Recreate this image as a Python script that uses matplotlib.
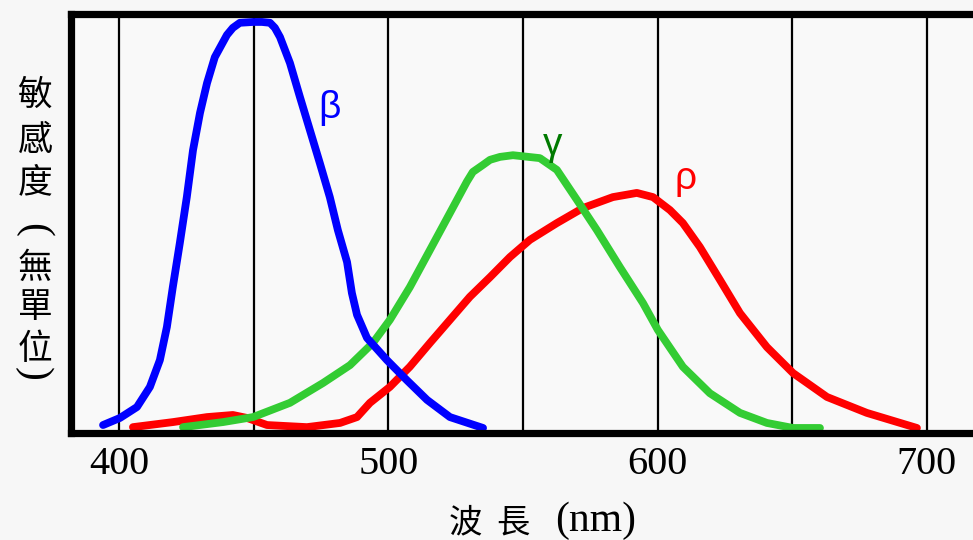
import matplotlib
matplotlib.use("Agg")
import matplotlib.pyplot as plt

# spectral sensitivity curves (nm, relative value)
beta_nm = [394.1, 400.4, 406.7, 411.5, 415.2, 417.8, 420.0, 422.6, 425.2, 427.5, 430.1, 432.7,
           435.6, 440.1, 442.3, 444.9, 449.8, 453.1, 456.1, 457.9, 459.8, 463.5, 467.2, 470.9,
           474.6, 478.3, 481.3, 484.7, 486.5, 488.4, 492.1, 499.5, 506.9, 514.4, 522.9, 535.2]
beta_val = [0.019, 0.036, 0.062, 0.110, 0.174, 0.253, 0.348, 0.453, 0.563, 0.675, 0.764, 0.835,
            0.897, 0.950, 0.967, 0.979, 0.981, 0.981, 0.979, 0.967, 0.945, 0.883, 0.802, 0.723,
            0.644, 0.563, 0.484, 0.408, 0.334, 0.282, 0.227, 0.174, 0.126, 0.079, 0.038, 0.012]

gamma_nm = [423.8, 438.6, 449.8, 463.5, 475.7, 485.8, 494.3, 500.6, 508.0, 515.5, 522.9, 529.2,
            531.4, 535.2, 537.8, 541.5, 546.3, 556.3, 562.6, 570.1, 577.5, 586.0, 594.6, 600.1,
            609.4, 619.4, 630.6, 640.6, 650.3, 660.3]
gamma_val = [0.014, 0.026, 0.038, 0.072, 0.119, 0.162, 0.215, 0.270, 0.348, 0.437, 0.525, 0.600,
             0.623, 0.640, 0.652, 0.659, 0.663, 0.656, 0.628, 0.556, 0.484, 0.396, 0.310, 0.246,
             0.158, 0.095, 0.048, 0.024, 0.012, 0.012]

rho_nm = [405.2, 420.0, 432.7, 442.3, 447.5, 455.0, 469.8, 482.1, 488.4, 493.2, 500.6, 508.0,
          515.5, 522.9, 530.3, 537.8, 545.2, 552.6, 562.6, 572.3, 583.4, 592.3, 598.3, 604.6,
          609.4, 615.7, 623.2, 630.6, 640.6, 650.3, 662.9, 677.7, 696.3]
rho_val = [0.014, 0.026, 0.038, 0.043, 0.036, 0.019, 0.014, 0.024, 0.038, 0.072, 0.110, 0.158,
           0.215, 0.270, 0.325, 0.372, 0.420, 0.461, 0.501, 0.537, 0.563, 0.573, 0.563, 0.532,
           0.501, 0.444, 0.365, 0.286, 0.205, 0.143, 0.086, 0.048, 0.012]

major_ticks = [400, 500, 600, 700]
minor_ticks = [450, 550, 650]

serif = ['Liberation Serif', 'Noto Sans CJK TC']
cjk = ['Noto Sans CJK TC', 'DejaVu Sans']

fig = plt.figure(figsize=(9.73, 5.40), dpi=100)
fig.patch.set_facecolor('#f7f7f7')
ax = fig.add_axes([71/973, 107/540, 1.0, 419/540])
ax.set_facecolor('#f9f9f9')

lw = 5.6
style = dict(lw=lw, solid_capstyle='round', solid_joinstyle='round')
ax.plot(rho_nm, rho_val, color='#ff0000', **style)
ax.plot(gamma_nm, gamma_val, color='#33cc33', **style)
ax.plot(beta_nm, beta_val, color='#0000ff', **style)

ax.set_xlim(382.2, 400 + (71 + 973 - 119) / 2.693)
ax.set_ylim(0, 1)

ax.set_xticks(major_ticks)
ax.set_xticks(minor_ticks, minor=True)
ax.set_yticks([])
ax.tick_params(axis='x', which='both', length=0, pad=9)
for lab in ax.get_xticklabels():
    lab.set_family(serif)
    lab.set_fontsize(29)
for t in major_ticks + minor_ticks:
    ax.axvline(t, color='black', lw=1.6, zorder=1)

for s in ['left', 'top', 'bottom']:
    ax.spines[s].set_linewidth(5.2)
ax.spines['right'].set_visible(False)

# curve labels
lab_font = ['Liberation Sans', 'DejaVu Sans']
ax.text(478.3, 0.775, 'β', color='#0000ff', fontsize=28, family=lab_font,
        ha='center', va='center')
ax.text(561.2, 0.687, 'γ', color='#007a00', fontsize=28, family=lab_font,
        ha='center', va='center')
ax.text(610.5, 0.607, 'ρ', color='#ff0000', fontsize=28, family=lab_font,
        ha='center', va='center')

# x label
fig.text(465/973, 1 - 523/540, '波', family=cjk, fontsize=24, ha='center', va='center')
fig.text(513/973, 1 - 523/540, '長', family=cjk, fontsize=24, ha='center', va='center')
fig.text(596/973, 1 - 521/540, '(nm)', family=serif, fontsize=30, ha='center', va='center')

# vertical y label, one character per line
ylab_chars = ['敏', '感', '度', '無', '單', '位']
ylab_pos = [95, 140, 183, 268, 308, 350]
for ch, yp in zip(ylab_chars, ylab_pos):
    fig.text(35/973, 1 - yp/540, ch, family=cjk, fontsize=25, ha='center', va='center')
fig.text(33/973, 1 - 230/540, '(', family=serif, fontsize=30, rotation=-90,
         ha='center', va='center')
fig.text(33/973, 1 - 374/540, ')', family=serif, fontsize=30, rotation=-90,
         ha='center', va='center')

fig.savefig('out.png', dpi=100, facecolor=fig.get_facecolor())
